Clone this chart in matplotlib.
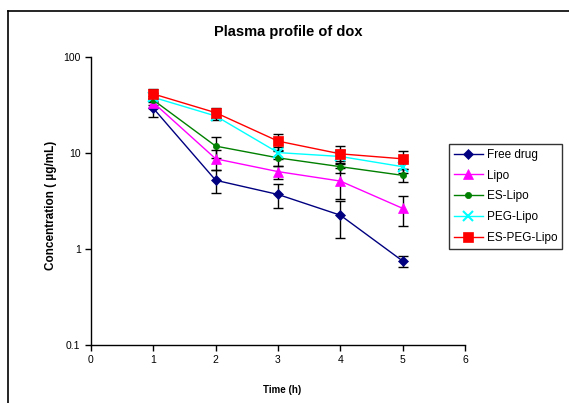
import matplotlib
matplotlib.use('Agg')
import matplotlib.pyplot as plt
from matplotlib.lines import Line2D

plt.rcParams['font.family'] = ['Liberation Sans', 'DejaVu Sans']

# Dữ liệu
time_h = [1, 2, 3, 4, 5]
series_names = ['Free drug', 'Lipo', 'ES-Lipo', 'PEG-Lipo', 'ES-PEG-Lipo']
free_drug = [29.2, 5.2, 3.7, 2.25, 0.75]
free_drug_err = [5.7, 1.4, 1.0, 0.95, 0.1]
lipo = [33.5, 8.7, 6.4, 5.1, 2.65]
lipo_err = [4.0, 2.0, 1.0, 1.8, 0.9]
es_lipo = [35.6, 11.8, 8.9, 7.2, 5.85]
es_lipo_err = [4.0, 3.0, 1.5, 1.0, 0.9]
peg_lipo = [38.0, 24.3, 10.1, 9.2, 7.2]
peg_lipo_err = [4.0, 2.3, 1.5, 1.5, 1.0]
es_peg_lipo = [41.2, 26.3, 13.3, 9.8, 8.7]
es_peg_lipo_err = [5.0, 3.0, 2.5, 2.0, 1.9]

values = [free_drug, lipo, es_lipo, peg_lipo, es_peg_lipo]
errors = [free_drug_err, lipo_err, es_lipo_err, peg_lipo_err, es_peg_lipo_err]
colors = ['#000080', '#FF00FF', '#008000', '#00FFFF', '#FF0000']
markers = ['D', '^', 'o', 'x', 's']
msizes = [5, 7, 4.5, 7, 6.5]

fig = plt.figure(figsize=(5.69, 4.03), dpi=100)
ax = fig.add_axes([91 / 569, 1 - 345 / 403, (465 - 91) / 569, (345 - 57) / 403])

handles = []
for name, y, e, c, m, ms in zip(series_names, values, errors, colors, markers, msizes):
    ax.errorbar(time_h, y, yerr=e, fmt='none', ecolor='black', elinewidth=1,
                capsize=3.5, capthick=1, zorder=2)
    ax.plot(time_h, y, color=c, marker=m, markersize=ms, linewidth=1,
            markeredgewidth=1.5 if m == 'x' else 0.5, markeredgecolor=c, zorder=3)
    handles.append(Line2D([], [], color=c, marker=m, markersize=ms, linewidth=1,
                          markeredgewidth=1.5 if m == 'x' else 0.5, markeredgecolor=c))

ax.set_yscale('log')
ax.set_ylim(0.1, 100)
ax.set_xlim(0, 6)
ax.set_xticks(range(0, 7))
ax.set_yticks([0.1, 1, 10, 100])
ax.set_yticklabels(['0.1', '1', '10', '100'])
ax.minorticks_off()
ax.tick_params(labelsize=7.5, length=4, direction='out', width=1)
for s in ['top', 'right']:
    ax.spines[s].set_visible(False)
for s in ['left', 'bottom']:
    ax.spines[s].set_linewidth(1)

# Nhãn trục và tiêu đề
fig.text(282 / 569, 1 - 390 / 403, 'Time (h)', fontsize=7, fontweight='bold',
         ha='center', va='center')
fig.text(51 / 569, 1 - 205 / 403, 'Concentration ( µg/mL)', fontsize=8.5,
         fontweight='bold', ha='center', va='center', rotation=90)
fig.text(288 / 569, 1 - 32 / 403, 'Plasma profile of dox', fontsize=10.5,
         fontweight='bold', ha='center', va='center')

leg = fig.legend(handles, series_names, loc='upper left',
                 bbox_to_anchor=(449 / 569, 1 - 144 / 403), fontsize=8.5,
                 frameon=True, fancybox=False, edgecolor='black', borderpad=0.4,
                 labelspacing=0.75, handlelength=2.5, handletextpad=0.3,
                 borderaxespad=0)
leg.get_frame().set_linewidth(1)

# Khung ngoài
fig.add_artist(Line2D([8 / 569, 8 / 569], [0, 1 - 11 / 403], color='black', lw=1.2,
                      transform=fig.transFigure))
fig.add_artist(Line2D([8 / 569, 1], [1 - 11 / 403, 1 - 11 / 403], color='black', lw=1.2,
                      transform=fig.transFigure))

fig.savefig('out.png', dpi=100)
